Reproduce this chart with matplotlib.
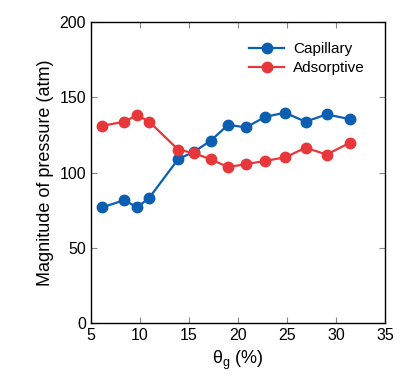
import matplotlib
matplotlib.use('Agg')
import matplotlib.pyplot as plt

# 数据
theta_g = [6.15, 8.4, 9.7, 10.95, 13.9, 15.5, 17.2, 19.0, 20.8, 22.8, 24.8, 26.9, 29.05, 31.4]
capillary = [76.9, 81.7, 76.9, 83.3, 109, 113.8, 121.1, 131.8, 130, 137.1, 139.8, 133.8, 138.7, 135.5]
adsorptive = [131.1, 133.8, 138.2, 133.8, 115.2, 113, 108.8, 103.7, 105.6, 107.8, 110.1, 116.5, 112, 119.8]

xticks = [5, 10, 15, 20, 25, 30, 35]
yticks = [0, 50, 100, 150, 200]

plt.rcParams['font.family'] = ['Liberation Sans', 'DejaVu Sans']
plt.rcParams['mathtext.fontset'] = 'custom'
plt.rcParams['mathtext.rm'] = 'Liberation Sans'
plt.rcParams['mathtext.it'] = 'Liberation Sans'

fig = plt.figure(figsize=(4, 3.81), dpi=100)
ax = fig.add_axes([0.2275, 0.152, 0.735, 0.79])

ax.plot(theta_g, capillary, color='#0b5eb0', marker='o', markersize=7.5, linewidth=1.6, label='Capillary')
ax.plot(theta_g, adsorptive, color='#e8373a', marker='o', markersize=7.5, linewidth=1.6, label='Adsorptive')

ax.set_xlim(5, 35)
ax.set_ylim(0, 200)
ax.set_xticks(xticks)
ax.set_yticks(yticks)
ax.tick_params(direction='in', top=True, right=True, labelsize=11.5, length=4, color='#888888')
for s in ax.spines.values():
    s.set_linewidth(1.0)

ax.set_xlabel(r'$\mathregular{\theta_g}$ (%)', fontsize=13)
ax.set_ylabel('Magnitude of pressure (atm)', fontsize=13)

ax.legend(loc='upper right', frameon=False, fontsize=11, handlelength=2.3,
          handletextpad=0.6, labelspacing=0.35, borderaxespad=0.9)

fig.savefig('out.png', dpi=100)
